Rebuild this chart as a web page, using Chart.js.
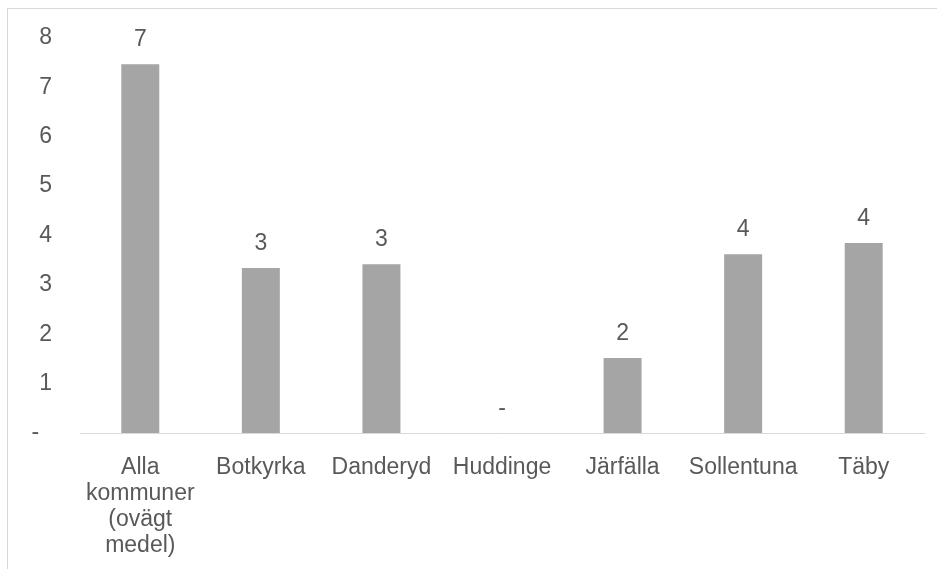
<!DOCTYPE html>
<html lang="sv">
<head>
    <meta charset="UTF-8">
    <title>Kommuner</title>
    <style>
        html, body { margin: 0; padding: 0; background: #fff; }
        .wrap { position: relative; width: 937px; height: 569px; }
        .frame {
            position: absolute; left: 7px; top: 8px; right: 0; bottom: 0;
            border-left: 1px solid #d9d9d9; border-top: 1px solid #d9d9d9;
        }
        canvas { position: absolute; left: 0; top: 0; }
    </style>
</head>
<body>
    <div class="wrap">
        <div class="frame"></div>
        <canvas id="chart" width="937" height="569"></canvas>
    </div>

    <script src="https://cdn.jsdelivr.net/npm/chart.js"></script>
    <script>
        // data
        const categories = [
            ['Alla', 'kommuner', '(ovägt', 'medel)'],
            'Botkyrka', 'Danderyd', 'Huddinge', 'Järfälla', 'Sollentuna', 'Täby'
        ];
        const values = [7.47, 3.34, 3.42, 0, 1.52, 3.62, 3.85];
        const yTicks = [0, 1, 2, 3, 4, 5, 6, 7, 8];

        const textColor = '#595959';
        const fontFamily = '"Liberation Sans", Arial, sans-serif';
        const fontSize = 23;

        // labels above the bars, like Excel's data labels
        const barLabels = {
            id: 'barLabels',
            afterDatasetsDraw(chart) {
                const c = chart.ctx;
                const meta = chart.getDatasetMeta(0);
                c.save();
                c.fillStyle = textColor;
                c.font = fontSize + 'px ' + fontFamily;
                c.textAlign = 'center';
                c.textBaseline = 'alphabetic';
                meta.data.forEach((bar, i) => {
                    const v = values[i];
                    const txt = v === 0 ? '-' : String(Math.round(v));
                    c.fillText(txt, bar.x, bar.y - 18);
                });
                c.restore();
            }
        };

        new Chart(document.getElementById('chart'), {
            type: 'bar',
            data: {
                labels: categories,
                datasets: [{
                    data: values,
                    backgroundColor: '#a5a5a5',
                    borderWidth: 0,
                    categoryPercentage: 1,
                    barPercentage: 0.315
                }]
            },
            options: {
                responsive: false,
                animation: false,
                layout: { padding: { left: 0, right: 13, top: 38, bottom: 0 } },
                plugins: {
                    legend: { display: false },
                    tooltip: { enabled: false }
                },
                scales: {
                    x: {
                        grid: { display: false, drawTicks: false },
                        border: { display: true, color: '#d9d9d9', width: 1 },
                        ticks: {
                            color: textColor,
                            font: { size: fontSize, family: fontFamily, lineHeight: '26px' },
                            padding: 22,
                            maxRotation: 0,
                            autoSkip: false
                        },
                        afterFit(scale) { scale.height = 136; }
                    },
                    y: {
                        min: 0,
                        max: 8,
                        afterBuildTicks(scale) {
                            scale.ticks = yTicks.map(v => ({ value: v }));
                        },
                        grid: { display: false, drawTicks: false },
                        border: { display: false },
                        ticks: {
                            color: textColor,
                            font: { size: fontSize, family: fontFamily },
                            padding: 28,
                            callback: v => v === 0 ? '-  ' : String(v)
                        },
                        afterFit(scale) {
                            scale.width = 80;
                            scale.paddingTop = 0;
                            scale.paddingBottom = 0;
                        }
                    }
                }
            },
            plugins: [barLabels]
        });
    </script>
</body>
</html>
